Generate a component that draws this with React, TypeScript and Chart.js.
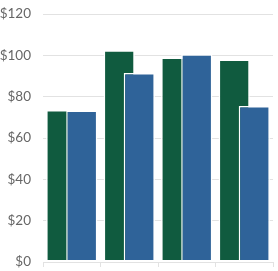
import React, { useEffect, useRef } from "react";
import { Chart, registerables } from "chart.js";

Chart.register(...registerables);

const categories = ["A", "B", "C", "D"];
const greenValues = [73.5, 102.5, 99, 98];
const blueValues = [73.3, 91.5, 100.5, 75.5];
const yTicks = [0, 20, 40, 60, 80, 100, 120];

const GREEN = "#105b3f";
const BLUE = "#2f6399";

// draw datasets in forward order so the right-hand (blue) bar sits on top
const forwardDraw = {
  id: "forwardDraw",
  beforeDatasetsDraw(chart: any) {
    const metas = chart.getSortedVisibleDatasetMetas();
    for (const m of metas) m.controller.draw();
    return false;
  },
};

export default function App() {
  const ref = useRef<HTMLCanvasElement | null>(null);
  useEffect(() => {
    if (!ref.current) return;
    const chart = new Chart(ref.current, {
      type: "bar",
      data: {
        labels: categories,
        datasets: [
          {
            label: "Series 1",
            data: greenValues,
            backgroundColor: GREEN,
            borderColor: "#ffffff",
            borderWidth: 1.5,
            borderSkipped: false,
          },
          {
            label: "Series 2",
            data: blueValues,
            backgroundColor: BLUE,
            borderColor: "#ffffff",
            borderWidth: 1.5,
            borderSkipped: false,
          },
        ],
      },
      options: {
        animation: false,
        responsive: false,
        maintainAspectRatio: false,
        layout: { padding: { left: 0, right: 5, top: 14, bottom: 4 } },
        datasets: {
          bar: { categoryPercentage: 0.7, barPercentage: 1.55 },
        },
        plugins: {
          legend: { display: false },
          tooltip: { enabled: false },
        },
        scales: {
          x: {
            ticks: { display: false },
            afterFit(scale: any) {
              scale.height = 5;
              scale.paddingTop = 0;
              scale.paddingBottom = 0;
            },
            grid: {
              display: true,
              drawOnChartArea: false,
              drawTicks: true,
              tickLength: 5,
              color: "#e2e2e2",
            },
            border: { display: true, color: "#e2e2e2" },
          },
          y: {
            min: 0,
            max: 120,
            afterBuildTicks(scale: any) {
              scale.ticks = yTicks.map((v) => ({ value: v }));
            },
            afterFit(scale: any) {
              scale.width = 43;
              scale.paddingTop = 0;
              scale.paddingBottom = 0;
            },
            ticks: {
              padding: 12,
              color: "#666666",
              font: { family: "Lato", size: 13.5 },
              callback: (v: any) => "$" + v,
            },
            grid: { color: "#e2e2e2", drawTicks: false, lineWidth: 1 },
            border: { display: false },
          },
        },
      },
      plugins: [forwardDraw],
    });
    return () => chart.destroy();
  }, []);
  return (
    <div style={{ position: "fixed", left: 0, top: 0, width: 278, height: 271, background: "#fff" }}>
      <canvas ref={ref} width={278} height={271} style={{ display: "block", width: 278, height: 271 }} />
    </div>
  );
}
